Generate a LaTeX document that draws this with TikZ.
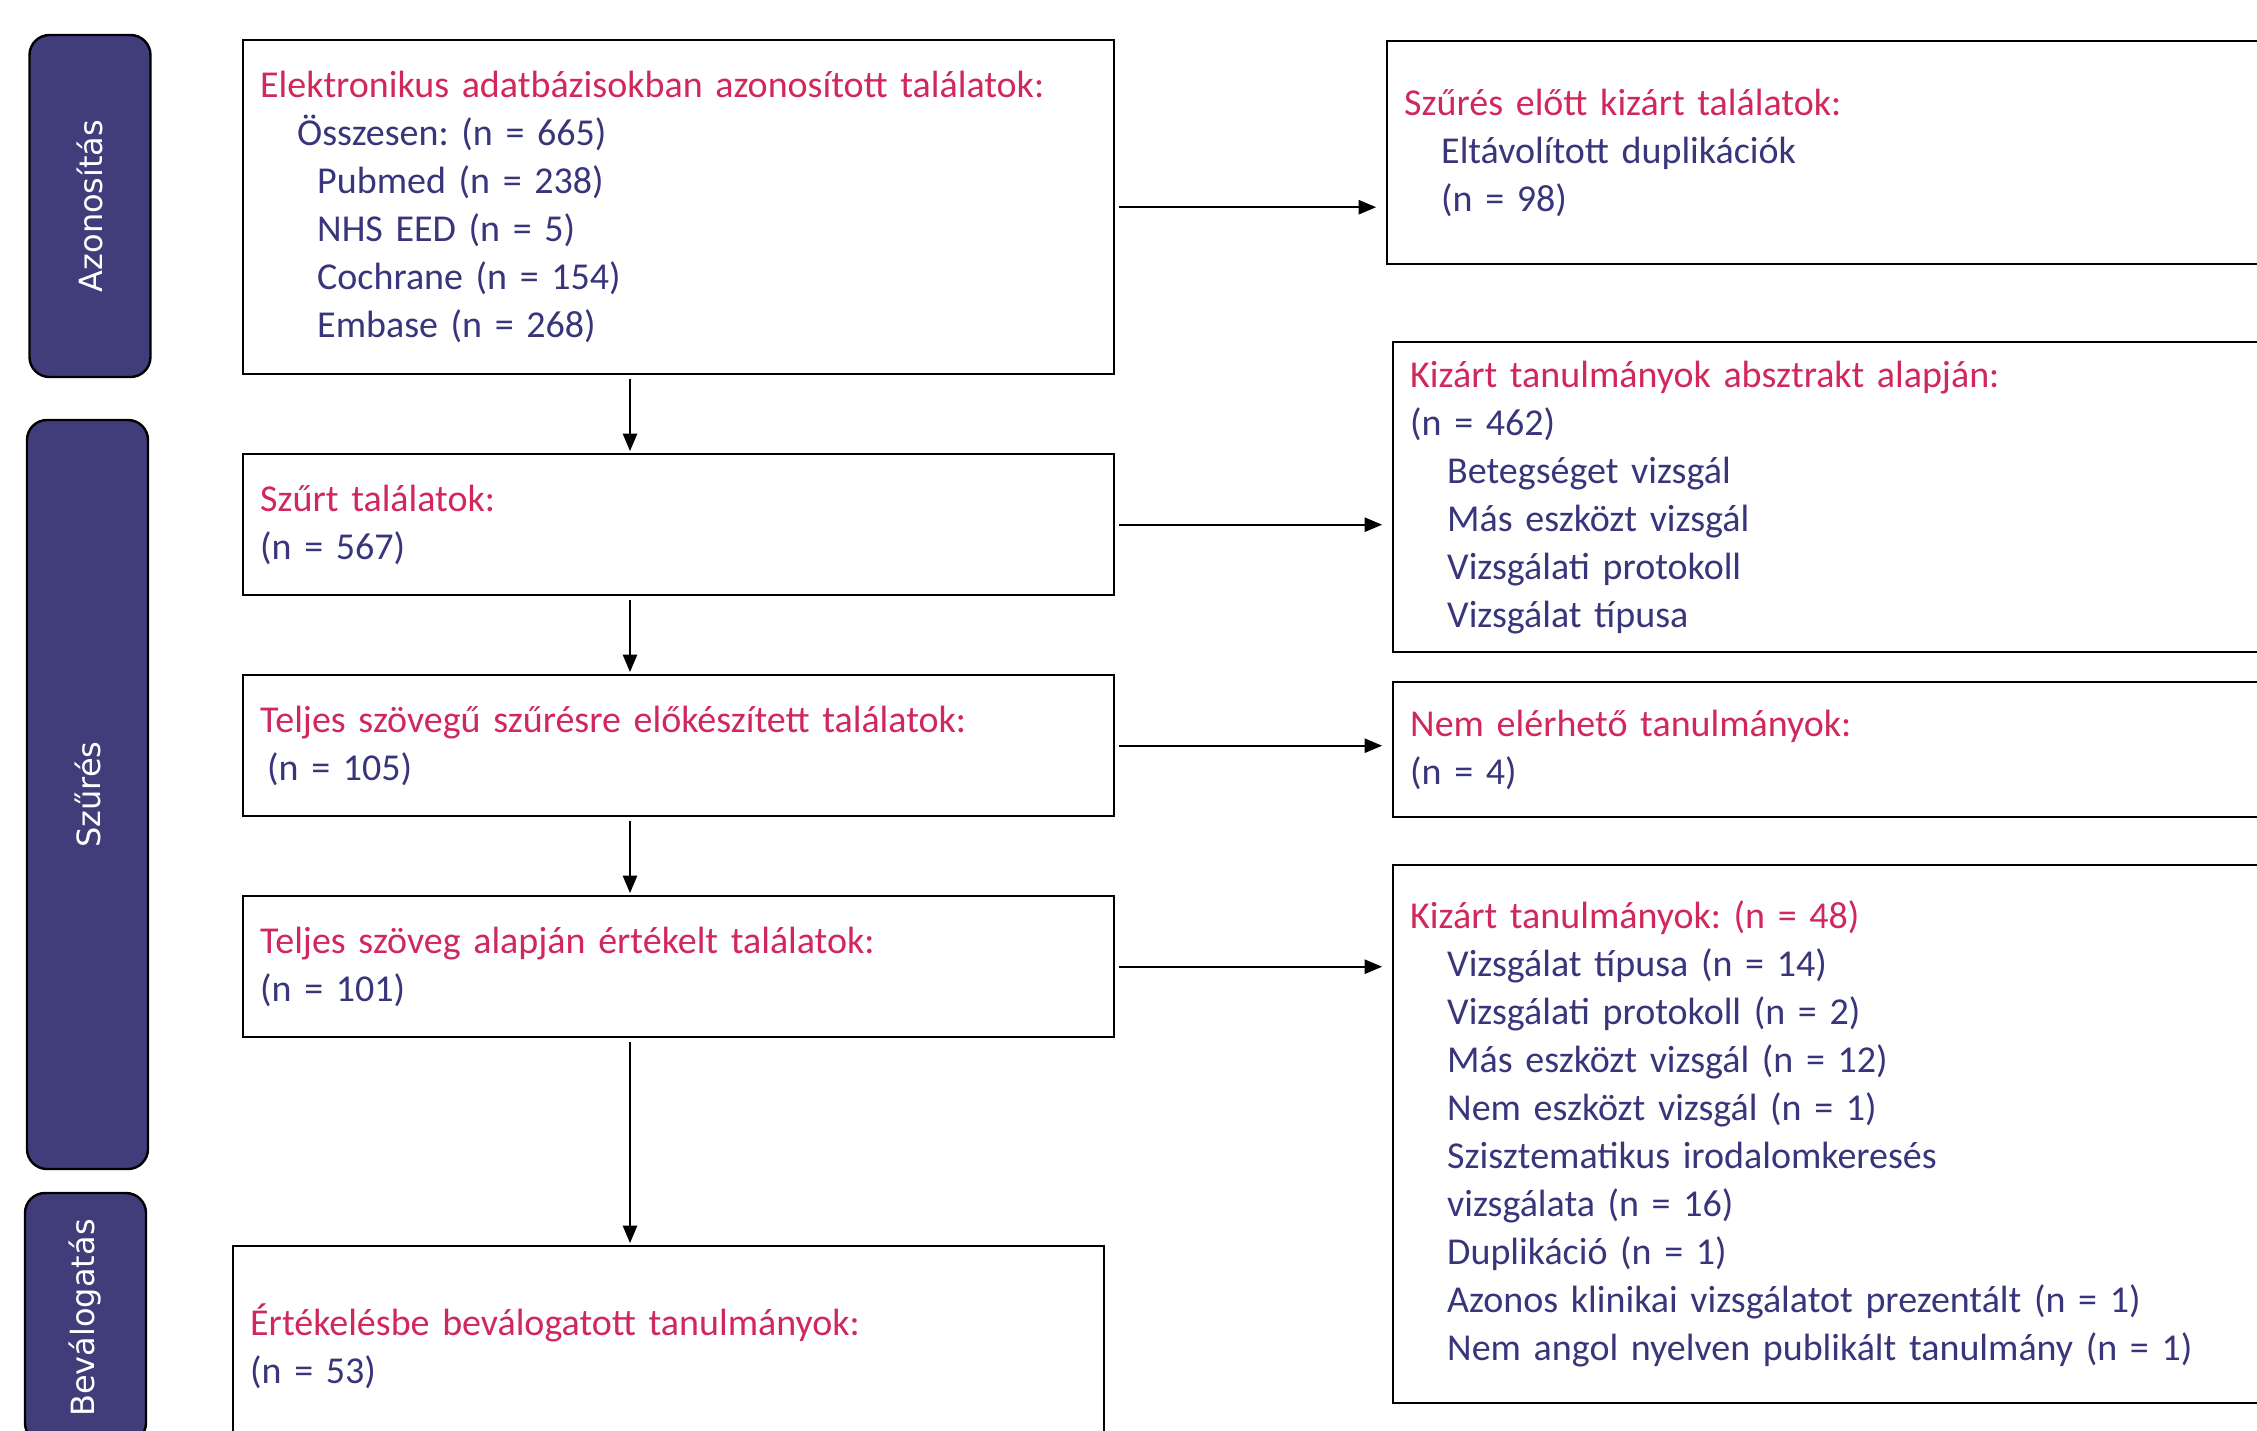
\documentclass[tikz,border=0pt]{standalone}
\usepackage{fontspec}
\setmainfont{Carlito}
\newfontfamily\sidefont{DejaVu Sans}
\usetikzlibrary{arrows}
\definecolor{titlered}{RGB}{208,40,92}
\definecolor{textblue}{RGB}{56,53,122}
\definecolor{barblue}{RGB}{64,61,122}
\newcommand{\ttl}[1]{\textcolor{titlered}{#1}}
\newcommand{\ind}{\hspace*{18.5pt}}
\frenchspacing

\begin{document}
\begin{tikzpicture}[x=0.5pt,y=-0.5pt,>=triangle 45,
		box/.style={draw=black,line width=1.2pt,anchor=north west,inner xsep=8.5pt,inner ysep=0pt,
			text width=418.5pt,align=left,text=textblue,font=\fontsize{19}{24}\selectfont},
		side/.style={draw=black,line width=1.2pt,fill=barblue,rounded corners=10pt,rotate=90,
			minimum height=60.5pt,text=white,font=\sidefont\fontsize{16}{19}\selectfont},
		down/.style={->,line width=1pt,shorten <=2pt,shorten >=1pt},
		right/.style={->,line width=1pt,shorten <=2pt,shorten >=5pt}]
	\useasboundingbox (0,0) rectangle (2257,1430);
	\clip (0,0) rectangle (2257,1430);

	% phase bars
	\node[side,minimum width=171pt] (ident) at (90,206) {Azonosítás};
	\node[side,minimum width=374.5pt] (screen) at (87.5,794.5) {Szűrés};
	\node[side,minimum width=125pt] (incl) at (85.5,1318) {Beválogatás};

	% main column
	\node[box,minimum height=167pt] (found) at (242,39) {\ttl{Elektronikus adatbázisokban azonosított találatok:}\\
		\ind Összesen: (n = 665)\\
		\hspace*{28.5pt}Pubmed (n = 238)\\
		\hspace*{28.5pt}NHS EED (n = 5)\\
		\hspace*{28.5pt}Cochrane (n = 154)\\
		\hspace*{28.5pt}Embase (n = 268)};
	\node[box,minimum height=70.5pt] (screened) at (242,453) {\ttl{Szűrt találatok:}\\(n = 567)};
	\node[box,minimum height=70.5pt] (fulltext) at (242,674) {\ttl{Teljes szövegű szűrésre előkészített találatok:}\\ \hspace*{3.5pt}(n = 105)};
	\node[box,minimum height=70.5pt] (assessed) at (242,895) {\ttl{Teljes szöveg alapján értékelt találatok:}\\(n = 101)};
	\node[box,minimum height=100pt] (included) at (232,1245) {\ttl{Értékelésbe beválogatott tanulmányok:}\\(n = 53)};

	% exclusions
	\node[box,text width=421pt,minimum height=111.5pt] (dupl) at (1386,40) {\ttl{Szűrés előtt kizárt találatok:}\\
		\ind Eltávolított duplikációk\\
		\ind (n = 98)};
	\node[box,text width=421pt,minimum height=155pt] (absex) at (1392,341) {\ttl{Kizárt tanulmányok absztrakt alapján:}\\
		(n = 462)\\
		\ind Betegséget vizsgál\\
		\ind Más eszközt vizsgál\\
		\ind Vizsgálati protokoll\\
		\ind Vizsgálat típusa};
	\node[box,text width=421pt,minimum height=67.5pt] (unavail) at (1392,681) {\ttl{Nem elérhető tanulmányok:}\\(n = 4)};
	\node[box,text width=421pt,minimum height=269pt] (fullex) at (1392,864) {\ttl{Kizárt tanulmányok: (n = 48)}\\
		\ind Vizsgálat típusa (n = 14)\\
		\ind Vizsgálati protokoll (n = 2)\\
		\ind Más eszközt vizsgál (n = 12)\\
		\ind Nem eszközt vizsgál (n = 1)\\
		\ind Szisztematikus irodalomkeresés\\
		\ind vizsgálata (n = 16)\\
		\ind Duplikáció (n = 1)\\
		\ind Azonos klinikai vizsgálatot prezentált (n = 1)\\
		\ind Nem angol nyelven publikált tanulmány (n = 1)};

	\coordinate (spine) at (630,0);
	\draw[down] (found.south -| spine) -- (screened.north -| spine);
	\draw[down] (screened.south -| spine) -- (fulltext.north -| spine);
	\draw[down] (fulltext.south -| spine) -- (assessed.north -| spine);
	\draw[down] (assessed.south -| spine) -- (included.north -| spine);

	\draw[right] (found.east) -- (found.east -| dupl.west);
	\draw[right] (screened.east) -- (screened.east -| absex.west);
	\draw[right] (fulltext.east) -- (fulltext.east -| unavail.west);
	\draw[right] (assessed.east) -- (assessed.east -| fullex.west);
\end{tikzpicture}
\end{document}
